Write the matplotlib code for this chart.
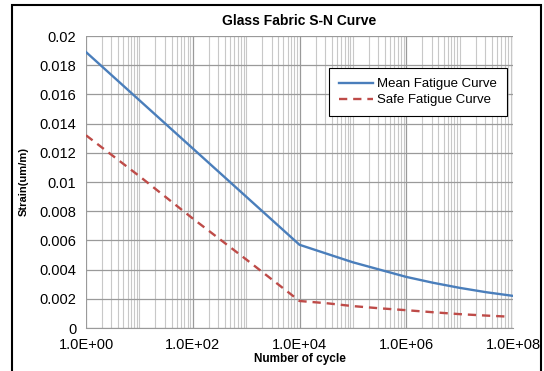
import matplotlib
matplotlib.use("Agg")
import matplotlib.pyplot as plt
from matplotlib.patches import Rectangle
from matplotlib.ticker import FixedLocator, FuncFormatter, NullFormatter

plt.rcParams['font.family'] = ['Liberation Sans', 'DejaVu Sans']

# data
mean_cycles = [1, 1e1, 1e2, 1e3, 1e4, 3.16e4, 1e5, 3.16e5, 1e6, 3.16e6, 1e7, 3.16e7, 1e8]
mean_strain = [0.0189, 0.0156, 0.0123, 0.0090, 0.0057, 0.0051, 0.0045, 0.0040,
               0.0035, 0.0031, 0.00275, 0.00245, 0.0022]
safe_cycles = [1, 1e1, 1e2, 1e3, 1e4, 3.16e4, 1e5, 3.16e5, 1e6, 3.16e6, 1e7, 3.16e7, 8e7]
safe_strain = [0.0132, 0.0104, 0.0075, 0.0047, 0.00185, 0.0017, 0.0015, 0.00135,
               0.00122, 0.00108, 0.00095, 0.00085, 0.00078]
y_ticks = [0, 0.002, 0.004, 0.006, 0.008, 0.01, 0.012, 0.014, 0.016, 0.018, 0.02]
x_major = [1, 1e2, 1e4, 1e6, 1e8]

fig = plt.figure(figsize=(5.44, 3.71), dpi=100)
ax = fig.add_axes([86 / 544, 1 - 328 / 371, 427 / 544, 292 / 371])

ax.plot(mean_cycles, mean_strain, color='#4A7EBB', lw=1.7, label='Mean Fatigue Curve')
ax.plot(safe_cycles, safe_strain, color='#BE4B48', lw=1.7, ls=(0, (3.5, 2.5)),
        label='Safe Fatigue Curve')

ax.set_xscale('log')
ax.set_xlim(1, 1e8)
ax.set_ylim(0, 0.02)

minor = []
for k in range(8):
    for m in range(1, 10):
        v = m * 10.0 ** k
        if v not in x_major:
            minor.append(v)
ax.xaxis.set_major_locator(FixedLocator(x_major))
ax.xaxis.set_minor_locator(FixedLocator(minor))
ax.xaxis.set_minor_formatter(NullFormatter())
ax.xaxis.set_major_formatter(FuncFormatter(lambda v, p: "{:.1E}".format(v)))
ax.set_yticks(y_ticks)
ax.yaxis.set_major_formatter(FuncFormatter(lambda v, p: "0" if v == 0 else "{:g}".format(v)))

ax.grid(True, which='major', axis='both', color='#9a9a9a', lw=0.9)
ax.grid(True, which='minor', axis='x', color='#c8c8c8', lw=0.8)
ax.set_axisbelow(True)
ax.tick_params(which='both', length=0, labelsize=10.5, pad=7)

for s in ['top', 'right', 'left']:
    ax.spines[s].set_visible(False)
ax.spines['bottom'].set_color('#9a9a9a')

ax.set_title('Glass Fabric S-N Curve', fontsize=10, fontweight='bold', pad=8)
ax.set_xlabel('Number of cycle', fontsize=8.5, fontweight='bold', labelpad=1)
ax.set_ylabel('Strain(um/m)', fontsize=8, fontweight='bold', labelpad=8)

leg = ax.legend(loc='upper right', bbox_to_anchor=(0.985, 0.89), borderaxespad=0,
                fontsize=9.5, frameon=True, fancybox=False, framealpha=1,
                edgecolor='black', handlelength=2.6, handletextpad=0.3,
                borderpad=0.75, labelspacing=0.3)
leg.get_frame().set_linewidth(0.8)

fig.patches.append(Rectangle((12 / 544, -0.05), 529 / 544, 1.05 - 5 / 371,
                             transform=fig.transFigure, fill=False,
                             edgecolor='black', lw=1.5))

fig.savefig('out.png', dpi=100)
